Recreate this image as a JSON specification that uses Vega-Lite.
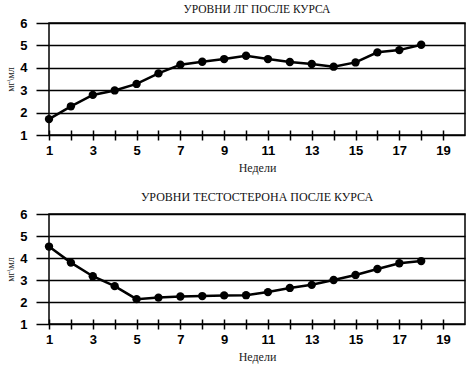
{
  "$schema": "https://vega.github.io/schema/vega-lite/v6.json",
  "background": "white",
  "padding": {"left": 5, "top": 2, "right": 5, "bottom": 2},
  "spacing": 16,
  "datasets": {
    "lg": [
      {"week": 1, "value": 1.71}, {"week": 2, "value": 2.28}, {"week": 3, "value": 2.79},
      {"week": 4, "value": 2.99}, {"week": 5, "value": 3.28}, {"week": 6, "value": 3.75},
      {"week": 7, "value": 4.14}, {"week": 8, "value": 4.27}, {"week": 9, "value": 4.39},
      {"week": 10, "value": 4.54}, {"week": 11, "value": 4.39}, {"week": 12, "value": 4.26},
      {"week": 13, "value": 4.17}, {"week": 14, "value": 4.05}, {"week": 15, "value": 4.24},
      {"week": 16, "value": 4.69}, {"week": 17, "value": 4.79}, {"week": 18, "value": 5.03}
    ],
    "testo": [
      {"week": 1, "value": 4.52}, {"week": 2, "value": 3.79}, {"week": 3, "value": 3.17},
      {"week": 4, "value": 2.72}, {"week": 5, "value": 2.13}, {"week": 6, "value": 2.2},
      {"week": 7, "value": 2.25}, {"week": 8, "value": 2.27}, {"week": 9, "value": 2.3},
      {"week": 10, "value": 2.31}, {"week": 11, "value": 2.45}, {"week": 12, "value": 2.64},
      {"week": 13, "value": 2.78}, {"week": 14, "value": 3.0}, {"week": 15, "value": 3.23},
      {"week": 16, "value": 3.5}, {"week": 17, "value": 3.76}, {"week": 18, "value": 3.86}
    ]
  },
  "vconcat": [
    {
      "title": {"text": "УРОВНИ ЛГ ПОСЛЕ КУРСА", "font": "Liberation Serif", "fontSize": 11.5, "fontWeight": "normal", "color": "#111", "offset": 2},
      "width": 416, "height": 112,
      "data": {"name": "lg"},
      "encoding": {
        "x": {"field": "week", "type": "quantitative", "title": "Недели",
          "scale": {"domain": [1, 20], "nice": false, "zero": false},
          "axis": {"values": [1,2,3,4,5,6,7,8,9,10,11,12,13,14,15,16,17,18,19],
            "labelExpr": "datum.value % 2 == 1 ? datum.label : ''"}},
        "y": {"field": "value", "type": "quantitative", "title": "мг\\мл",
          "scale": {"domain": [1, 6], "nice": false, "zero": false},
          "axis": {"values": [1,2,3,4,5,6]}}
      },
      "layer": [
        {"mark": {"type": "line", "color": "black", "strokeWidth": 2.5}},
        {"mark": {"type": "point", "filled": true, "color": "black", "size": 70, "opacity": 1}}
      ]
    },
    {
      "title": {"text": "УРОВНИ ТЕСТОСТЕРОНА ПОСЛЕ КУРСА", "font": "Liberation Serif", "fontSize": 12, "fontWeight": "normal", "color": "#111", "offset": 4},
      "width": 416, "height": 110,
      "data": {"name": "testo"},
      "encoding": {
        "x": {"field": "week", "type": "quantitative", "title": "Недели",
          "scale": {"domain": [1, 20], "nice": false, "zero": false},
          "axis": {"values": [1,2,3,4,5,6,7,8,9,10,11,12,13,14,15,16,17,18,19],
            "labelExpr": "datum.value % 2 == 1 ? datum.label : ''"}},
        "y": {"field": "value", "type": "quantitative", "title": "мг\\мл",
          "scale": {"domain": [1, 6], "nice": false, "zero": false},
          "axis": {"values": [1,2,3,4,5,6]}}
      },
      "layer": [
        {"mark": {"type": "line", "color": "black", "strokeWidth": 2.5}},
        {"mark": {"type": "point", "filled": true, "color": "black", "size": 70, "opacity": 1}}
      ]
    }
  ],
  "config": {
    "view": {"stroke": "black", "strokeWidth": 1.5},
    "axisX": {
      "domain": false, "grid": false, "offset": -5, "tickSize": 10, "tickWidth": 1.5, "tickColor": "black",
      "labelFont": "Liberation Sans", "labelFontWeight": "bold", "labelFontSize": 13, "labelColor": "black",
      "labelPadding": 4, "labelFlush": false,
      "titleFont": "Liberation Serif", "titleFontWeight": "normal", "titleFontSize": 12, "titleColor": "#222", "titlePadding": 5
    },
    "axisY": {
      "domain": false, "grid": true, "gridColor": "black", "gridWidth": 1.5, "gridOpacity": 1,
      "tickSize": 13, "tickWidth": 1.5, "tickColor": "black",
      "labelFont": "Liberation Sans", "labelFontWeight": "bold", "labelFontSize": 13, "labelColor": "black",
      "labelPadding": 9, "labelFlush": false,
      "titleFont": "Liberation Serif", "titleFontWeight": "normal", "titleFontSize": 10, "titleColor": "#222", "titlePadding": 4
    }
  }
}
